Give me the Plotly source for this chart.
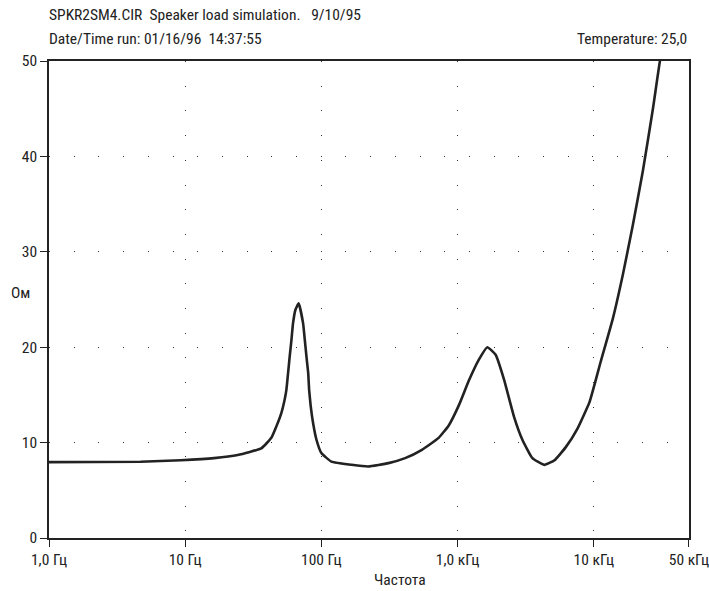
import numpy as np
import plotly.graph_objects as go

# impedance curve (Hz, Ohm)
freq = [1, 4.7, 9.3, 16.3, 24.3, 36.2, 42.9, 46.7, 50.8, 53.7, 55.3, 58.5, 60.2,
        61.9, 64.4, 68.1, 73.4, 75.5, 77.7, 80.0, 81.3, 83.5, 87.0, 92.0, 100,
        118.6, 166.7, 221, 311, 412, 547, 726, 861, 1021, 1210, 1433, 1652,
        1903, 2193, 2597, 2990, 3543, 4325, 5150, 6210, 7610, 9330, 11250,
        13800, 16340, 19360, 22940, 27180, 30600, 32000]
ohm = [7.95, 8.0, 8.15, 8.37, 8.7, 9.4, 10.5, 11.7, 13.1, 14.5, 15.5, 19.0, 20.7,
       22.5, 23.9, 24.6, 22.5, 20.8, 19.0, 17.3, 15.5, 13.8, 12.0, 10.3, 8.9,
       8.0, 7.67, 7.5, 7.85, 8.37, 9.24, 10.5, 11.8, 13.9, 16.5, 18.7, 20.0,
       19.2, 16.6, 12.7, 10.3, 8.37, 7.67, 8.15, 9.5, 11.5, 14.3, 18.5,
       23.0, 27.6, 32.8, 38.5, 45.0, 50.0, 51.2]

x_ticks = [1, 10, 100, 1000, 10000, 50000]
x_labels = ["1,0 Гц", "10 Гц", "100 Гц", "1,0 кГц", "10 кГц", "50 кГц"]
y_ticks = [0, 10, 20, 30, 40, 50]

FONT = "Liberation Sans Narrow, Arial Narrow, Roboto Condensed, Liberation Sans, sans-serif"
INK = "#222222"

fig = go.Figure()
fig.add_trace(go.Scatter(
    x=freq, y=ohm, mode="lines",
    line=dict(color=INK, width=2.6, shape="spline", smoothing=0.4),
    hoverinfo="x+y",
))

axis_common = dict(
    showline=True, linecolor=INK, linewidth=1.5, mirror=True,
    ticks="outside", ticklen=7, tickcolor=INK, tickwidth=1.2,
    showgrid=True, gridcolor="#333333", gridwidth=1, griddash="1px,23.7px",
    zeroline=False, automargin=False, ticklabeloverflow="allow",
    tickfont=dict(family=FONT, size=15.5, color=INK),
)

# tiny pad on the right so the 50 kHz tick survives float rounding
fig.update_xaxes(type="log", range=[0, np.log10(50000) + 1e-4],
                 tickvals=x_ticks, ticktext=x_labels, **axis_common)
fig.update_yaxes(range=[0, 50], tickvals=y_ticks, **axis_common)

ann = dict(xref="paper", yref="paper", showarrow=False,
           font=dict(family=FONT, size=15.5, color=INK))
fig.update_layout(
    width=709, height=591,
    margin=dict(l=49, r=20, t=61, b=53),
    paper_bgcolor="white", plot_bgcolor="white",
    showlegend=False,
    font=dict(family=FONT, color=INK),
    annotations=[
        dict(ann, text="SPKR2SM4.CIR  Speaker load simulation.   9/10/95",
             x=-0.003, y=1.096, xanchor="left", yanchor="middle"),
        dict(ann, text="Date/Time run: 01/16/96  14:37:55",
             x=-0.003, y=1.046, xanchor="left", yanchor="middle"),
        dict(ann, text="Temperature: 25,0",
             x=1.0, y=1.046, xanchor="right", yanchor="middle"),
        dict(ann, text="Ом", x=-0.044, y=0.514, xanchor="center", yanchor="middle"),
        dict(ann, text="Частота", x=0.548, y=-0.088, xanchor="center", yanchor="middle"),
    ],
)

# drop the default body margin so the figure sits at the page corner
fig.write_html("out.html", config={"displayModeBar": False},
               post_script="document.body.style.margin='0';")
